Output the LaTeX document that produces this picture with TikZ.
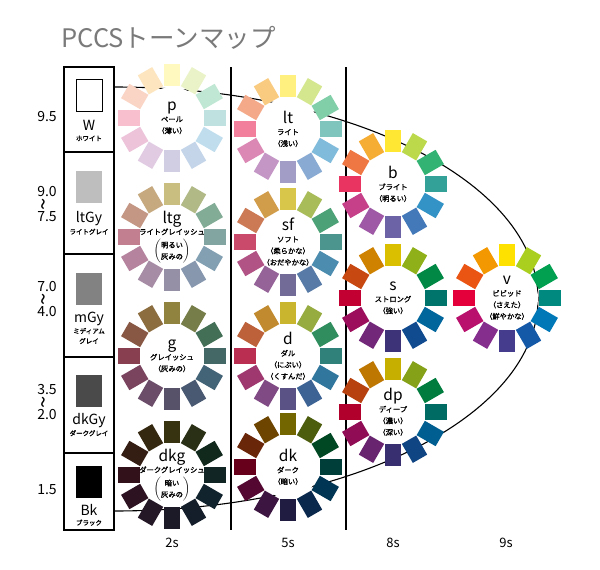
\documentclass[tikz,border=0pt]{standalone}
\usepackage{fontspec}
\setmainfont{Noto Sans CJK JP}[AutoFakeBold=1.6]
\usetikzlibrary{positioning}

% vivid hues, clockwise from yellow
\definecolor{hY}{HTML}{FFE100}
\definecolor{hYG}{HTML}{AACF1E}
\definecolor{hG}{HTML}{00A050}
\definecolor{hBG}{HTML}{00897E}
\definecolor{hgB}{HTML}{0078B8}
\definecolor{hB}{HTML}{1458A8}
\definecolor{hV}{HTML}{463C8E}
\definecolor{hP}{HTML}{862E8E}
\definecolor{hRP}{HTML}{B8106C}
\definecolor{hR}{HTML}{E4003A}
\definecolor{hrO}{HTML}{EA5514}
\definecolor{hyO}{HTML}{F39800}
% greys the hues are mixed with
\definecolor{ltgbase}{HTML}{B4B0B0}
\definecolor{sfbase}{HTML}{A8A4A4}
\definecolor{gbase}{HTML}{605A5A}
\definecolor{dbase}{HTML}{787474}
\definecolor{dkgbase}{HTML}{141414}
\definecolor{ltgyc}{HTML}{BEBEBE}
\definecolor{mgyc}{HTML}{828282}
\definecolor{dkgyc}{HTML}{4A4A4A}
\definecolor{titlegray}{HTML}{7A7A7A}

\newcommand{\tonesize}{\fontsize{15.5}{15.5}\selectfont\mdseries}
\newcommand{\jpsmall}{\fontsize{6.5}{9}\selectfont\bfseries}
\newcommand{\squig}{\smash{\rotatebox[origin=c]{90}{\fontsize{22}{22}\selectfont\char`\~}}}

\tikzset{
  disc/.style={circle,fill=white,minimum size=62pt,inner sep=0pt},
  tonelab/.style={align=center,inner sep=0pt,font=\fontsize{7.3}{11.5}\selectfont\bfseries},
  swatch/.style={minimum width=26pt,minimum height=32pt,inner sep=0pt},
  graylab/.style={align=center,inner sep=0pt,font=\fontsize{14}{10}\selectfont},
  valuelab/.style={align=center,inner sep=0pt,font=\fontsize{14}{12.5}\selectfont},
  collab/.style={inner sep=0pt,font=\fontsize{13}{13}\selectfont}
}

\begin{document}
\begin{tikzpicture}[x=1pt,y=-1pt,line width=1.1pt]
\useasboundingbox (0,0) rectangle (600,570);
\fill[white] (0,0) rectangle (600,570);
\node[anchor=west,inner sep=0pt,text=titlegray,font=\fontsize{25.5}{25.5}\selectfont] (title) at (61,38) {PCCSトーンマップ};
\draw (64,67) rectangle (114,530);
\foreach \y in {152,254,357,453}
\draw (64,\y) -- (114,\y);
\draw (231,67) -- (231,530);
\draw (346,67) -- (346,530);
\coordinate (wtop) at (114,87);
\draw (wtop) arc[start angle=90,end angle=-90,x radius=424pt,y radius=212pt];
\foreach \nm/\cx/\cy/\pct/\base/\lab in {
  p/172/118/25/white/{ペール\\（薄い）},
  lt/288/129/50/white/{ライト\\（浅い）},
  b/393/184/80/white/{ブライト\\（明るい）},
  v/507/298/100/white/{ビビッド\\（さえた）\\（鮮やかな）},
  ltg/172/237/28/ltgbase/{ライトグレイッシュ\\[3pt]$\left(\begin{tabular}{@{}c@{}}明るい\\灰みの\end{tabular}\right)$},
  sf/288/242/55/sfbase/{ソフト\\（柔らかな）\\（おだやかな）},
  s/393/298/85/black/{ストロング\\（強い）},
  g/172/356/30/gbase/{グレイッシュ\\（灰みの）},
  d/288/356/60/dbase/{ダル\\（にぶい）\\（くすんだ）},
  dp/393/412/78/black/{ディープ\\（濃い）\\（深い）},
  dkg/172/475/15/dkgbase/{ダークグレイッシュ\\[3pt]$\left(\begin{tabular}{@{}c@{}}暗い\\灰みの\end{tabular}\right)$},
  dk/288/467/45/black/{ダーク\\（暗い）}}{
  \node[disc] (\nm) at (\cx,\cy) {};
  \foreach \h [count=\i] in {hY,hYG,hG,hBG,hgB,hB,hV,hP,hRP,hR,hrO,hyO}
  \fill[fill=\h!\pct!\base,shift={(\cx,\cy)},rotate=120-30*\i] (32,-8.3) rectangle (54,8.3);
  \node[tonelab] (\nm-lab) at (\nm) {{\tonesize\nm}\\\lab};
}
\node[swatch,draw,line width=1pt,fill=white] (W) at (89,95.5) {};
\node[swatch,fill=ltgyc] (ltGy) at (89,187) {};
\node[swatch,fill=mgyc] (mGy) at (89,289) {};
\node[swatch,fill=dkgyc] (dkGy) at (89,390.5) {};
\node[swatch,fill=black] (Bk) at (89,482) {};
\node[graylab,below=8pt of W] (W-lab) {W\\{\jpsmall ホワイト}};
\node[graylab,below=7pt of ltGy] (ltGy-lab) {ltGy\\[2pt]{\jpsmall ライトグレイ}};
\node[graylab,below=6pt of mGy] (mGy-lab) {mGy\\[1pt]{\jpsmall ミディアム}\\{\jpsmall グレイ}};
\node[graylab,below=6pt of dkGy] (dkGy-lab) {dkGy\\[1pt]{\jpsmall ダークグレイ}};
\node[graylab,below=5pt of Bk] (Bk-lab) {Bk\\{\jpsmall ブラック}};
\node[valuelab] (v95) at (47,117) {9.5};
\node[valuelab] (v90) at (47,204.5) {9.0\\\squig\\7.5};
\node[valuelab] (v70) at (47,299) {7.0\\\squig\\4.0};
\node[valuelab] (v35) at (47,402.5) {3.5\\\squig\\2.0};
\node[valuelab] (v15) at (47,490) {1.5};
\node[collab] (col2) at (172,543) {2s};
\node[collab] (col5) at (288,543) {5s};
\node[collab] (col8) at (393,543) {8s};
\node[collab] (col9) at (506,543) {9s};
\end{tikzpicture}
\end{document}
